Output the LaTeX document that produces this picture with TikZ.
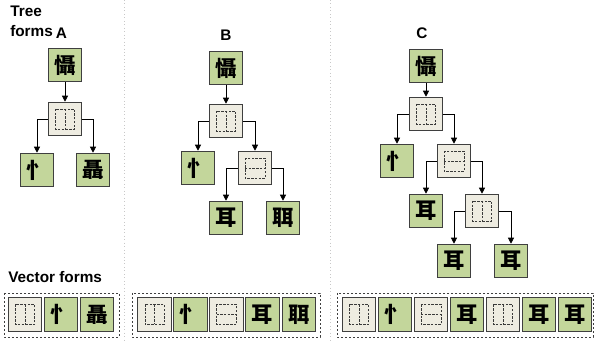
\documentclass[tikz,border=0pt]{standalone}
\usepackage{fontspec}
\setmainfont{Liberation Sans}
\newfontfamily\cjk{Noto Sans CJK TC}
\usetikzlibrary{arrows.meta}
\definecolor{leafgreen}{HTML}{C3D69B}
\definecolor{compbeige}{HTML}{EEECE1}
\definecolor{boxborder}{HTML}{3F3F3F}
\definecolor{sepgray}{HTML}{C8C8C8}
\definecolor{innergray}{HTML}{3A3A3A}
\begin{document}
\begin{tikzpicture}[x=0.75pt,y=-0.75pt,
  cell/.style={draw=boxborder, line width=0.9pt, minimum size=25pt, inner sep=0pt},
  leaf/.style={cell, fill=leafgreen, font=\fontsize{16pt}{16pt}\selectfont\cjk\bfseries},
  innerd/.style={draw=innergray, line width=0.6pt, dash pattern=on 1.8pt off 1pt},
  hcomp/.style={cell, fill=compbeige, path picture={
     \draw[innerd] ([shift={(-9.5,-10)}]path picture bounding box.center) rectangle ([shift={(9.5,10)}]path picture bounding box.center);
     \draw[innerd] ([shift={(0,-10)}]path picture bounding box.center) -- ([shift={(0,10)}]path picture bounding box.center);}},
  vcomp/.style={cell, fill=compbeige, path picture={
     \draw[innerd] ([shift={(-10,-10)}]path picture bounding box.center) rectangle ([shift={(10,10)}]path picture bounding box.center);
     \draw[innerd] ([shift={(-10,0)}]path picture bounding box.center) -- ([shift={(10,0)}]path picture bounding box.center);}},
  arr/.style={draw=black, line width=0.6pt, -{Triangle[length=4.5pt,width=4.5pt]}},
  lbl/.style={font=\fontsize{11.5pt}{12pt}\selectfont\bfseries, inner sep=0pt},
  sepline/.style={draw=sepgray, line width=0.6pt, dotted},
  vecframe/.style={draw=boxborder, line width=0.6pt, dash pattern=on 1.8pt off 1.2pt}
]
\useasboundingbox (0,0) rectangle (594,342);

% separators
\draw[sepline] (124.5,0) -- (124.5,342);
\draw[sepline] (330,0) -- (330,342);

% labels
\node[lbl, anchor=base west] (t1) at (10,17) {Tree};
\node[lbl, anchor=base west] (t2) at (10,37) {forms};
\node[lbl, anchor=base] (la) at (61.5,38.5) {A};
\node[lbl, anchor=base] (lb) at (226,41) {B};
\node[lbl, anchor=base] (lc) at (422,39) {C};
\node[lbl, anchor=base west] (vf) at (8,283) {Vector forms};

% Tree A
\node[leaf] (a0) at (65,65) {懾};
\node[hcomp] (a1) at (65,119) {};
\node[leaf] (a2) at (37,170) {忄};
\node[leaf] (a3) at (93,170) {聶};
\draw[arr] (a0.south) -- (a1.north);
\draw[arr] (a1.west) -| (a2.north);
\draw[arr] (a1.east) -| (a3.north);

% Tree B
\node[leaf] (b0) at (226,68) {懾};
\node[hcomp] (b1) at (226,121) {};
\node[leaf] (b2) at (198,168) {忄};
\node[vcomp] (b3) at (255,168) {};
\node[leaf] (b4) at (226,218) {耳};
\node[leaf] (b5) at (283,218) {聑};
\draw[arr] (b0.south) -- (b1.north);
\draw[arr] (b1.west) -| (b2.north);
\draw[arr] (b1.east) -| (b3.north);
\draw[arr] (b3.west) -| (b4.north);
\draw[arr] (b3.east) -| (b5.north);

% Tree C
\node[leaf] (c0) at (426,66) {懾};
\node[hcomp] (c1) at (426,114) {};
\node[leaf] (c2) at (397,161) {忄};
\node[vcomp] (c3) at (454,161) {};
\node[leaf] (c4) at (426,211) {耳};
\node[hcomp] (c5) at (482,211) {};
\node[leaf] (c6) at (454,261) {耳};
\node[leaf] (c7) at (511,261) {耳};
\draw[arr] (c0.south) -- (c1.north);
\draw[arr] (c1.west) -| (c2.north);
\draw[arr] (c1.east) -| (c3.north);
\draw[arr] (c3.west) -| (c4.north);
\draw[arr] (c3.east) -| (c5.north);
\draw[arr] (c5.west) -| (c6.north);
\draw[arr] (c5.east) -| (c7.north);

% Vector forms
\draw[vecframe] (4,293) rectangle (119,337);
\draw[vecframe] (132,293) rectangle (320,337);
\draw[vecframe] (337,293) rectangle (593,337);

\node[hcomp] (va1) at (25,314.5) {};
\node[leaf] (va2) at (61,314.5) {忄};
\node[leaf] (va3) at (97,314.5) {聶};

\node[hcomp] (vb1) at (154.5,314.5) {};
\node[leaf] (vb2) at (190.5,314.5) {忄};
\node[vcomp] (vb3) at (226.5,314.5) {};
\node[leaf] (vb4) at (262.5,314.5) {耳};
\node[leaf] (vb5) at (299,314.5) {聑};

\node[hcomp] (vc1) at (359,314.5) {};
\node[leaf] (vc2) at (395,314.5) {忄};
\node[vcomp] (vc3) at (431,314.5) {};
\node[leaf] (vc4) at (467,314.5) {耳};
\node[hcomp] (vc5) at (503,314.5) {};
\node[leaf] (vc6) at (539,314.5) {耳};
\node[leaf] (vc7) at (575,314.5) {耳};
\end{tikzpicture}
\end{document}
